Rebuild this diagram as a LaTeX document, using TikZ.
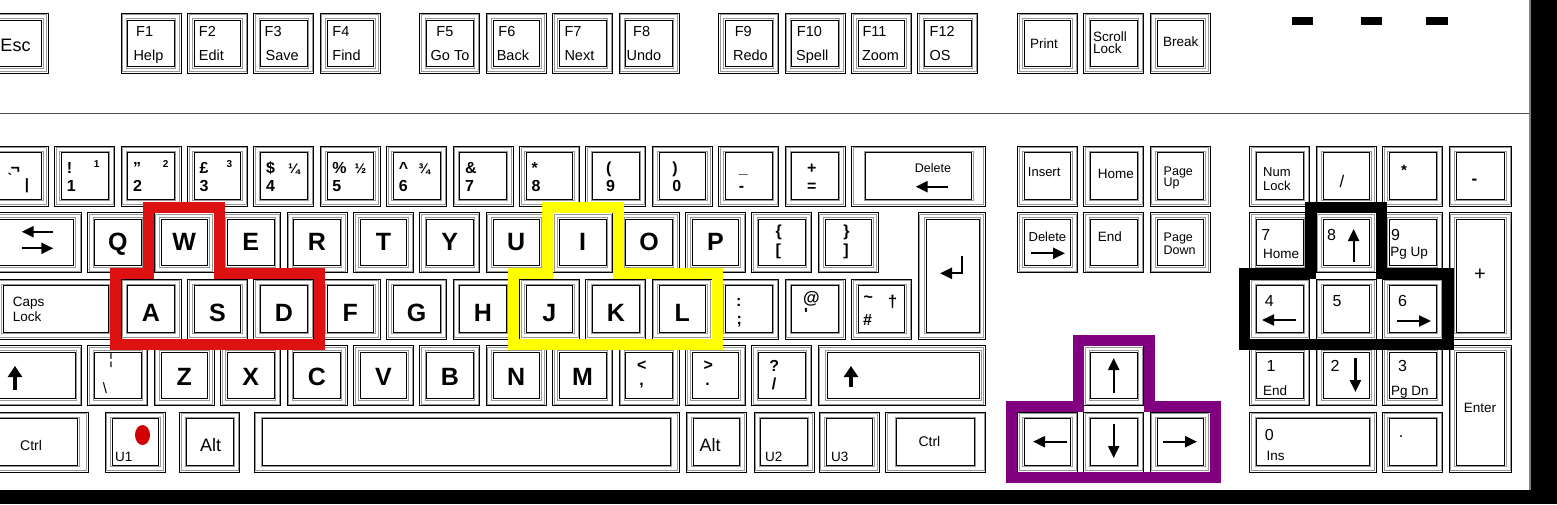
\documentclass[tikz,border=0pt]{standalone}
\usepackage{fontspec}
\setmainfont{Liberation Sans}
\usetikzlibrary{arrows.meta}
\newcommand\fs[1]{\fontsize{#1}{#1}\selectfont}
\newcommand\kbox[6]{%
  \pgfmathsetmacro\kxA{#1+1.5}\pgfmathsetmacro\kyA{#2+1.5}%
  \pgfmathsetmacro\kxB{#3-1.5}\pgfmathsetmacro\kyB{#4-1.5}%
  \fill[white] (#1,#2) rectangle (#3,#4);%
  \draw[kgray] (\kxA,\kyA) rectangle (\kxB,\kyB);%
  \draw[kline] (#1,#2) rectangle (#3,#4);%
  \pgfmathsetmacro\kxA{#1+#5}\pgfmathsetmacro\kyA{#2+6.7}%
  \pgfmathsetmacro\kxB{#3-#6}\pgfmathsetmacro\kyB{#4-6.7}%
  \draw[kgray] (\kxA-1.5,\kyA-1.5) rectangle (\kxB+1.5,\kyB+1.5);%
  \draw[kline] (\kxA,\kyA) rectangle (\kxB,\kyB);%
}
\newcommand\ku[2]{%
  \pgfmathsetmacro\kx{-11.8+66.4*#1}%
  \pgfmathsetmacro\kxe{\kx+60}\pgfmathsetmacro\kye{#2+60}%
  \kbox{\kx}{#2}{\kxe}{\kye}{6.7}{6.7}}
\newcommand\lt[3]{\pgfmathsetmacro\kx{-11.8+66.4*#1+30}\node[big] (k#3) at (\kx,#2) {#3};}
\definecolor{kred}{RGB}{221,17,17}
\definecolor{kyel}{RGB}{255,255,0}
\definecolor{kpur}{RGB}{128,0,128}
\definecolor{dotred}{RGB}{210,0,0}
\begin{document}
\begin{tikzpicture}[x=1pt,y=-1pt,
  kline/.style={draw=black,line width=0.75pt},
  kgray/.style={draw=black!40,line width=0.75pt},
  lb/.style={inner sep=0pt,anchor=base west},
  cb/.style={inner sep=0pt,anchor=center},
  big/.style={inner sep=0pt,anchor=base,font=\fs{25}\bfseries},
  nl/.style={lb,font=\fs{16}\bfseries},
  fl/.style={lb,font=\fs{14.5}},
  sl/.style={lb,font=\fs{13.5}},
  arr/.style={line width=2.2pt,-{Triangle[length=12pt,width=11pt]}},
  sarr/.style={line width=3.5pt,-{Triangle[length=11pt,width=14pt]}},
  hl/.style={line width=11pt,line join=miter,miter limit=10},
]
\fill[white] (0,0) rectangle (1557,504);
\clip (0,0) rectangle (1557,504);
% ---------- function row
\ku{0}{13.3}
\node[lb,font=\fs{18}] (esc) at (0.3,51.7) {Esc};
\foreach \n/\a/\b/\da/\db [count=\i] in {2/F1/Help/15/12.3, 3/F2/Edit/11.3/11.3, 4/F3/Save/10.7/11.7, 5/F4/Find/12/12, 6.5/F5/Go To/16.4/10.7, 7.5/F6/Back/12/10.4, 8.5/F7/Next/11.7/11.7, 9.5/F8/Undo/14/7.4, 11/F9/Redo/16/14.3, 12/F10/Spell/11.7/11, 13/F11/Zoom/11/10.4, 14/F12/OS/11.7/11.7}{
  \ku{\n}{13.3}
  \pgfmathsetmacro\kx{-11.8+66.4*\n}
  \node[fl] (f\i-a) at (\kx+\da,36) {\a};
  \node[fl] (f\i-b) at (\kx+\db,60.7) {\b};
}
\ku{15.5}{13.3} \node[sl] (prt) at (1030,48.3) {Print};
\ku{16.5}{13.3} \node[sl] (scr1) at (1093,41.5) {Scroll}; \node[sl] (scr2) at (1093,53.5) {Lock};
\ku{17.5}{13.3} \node[sl] (brk) at (1162.8,46.7) {Break};
\fill (1292,17) rectangle (1313,24.5);
\fill (1361,17) rectangle (1382,24.5);
\fill (1426,17) rectangle (1448,24.5);
\draw[black!70,line width=1pt] (0,113) -- (1530,113);
% ---------- number row
\ku{0}{146}
\node[nl] (n0-a) at (10.5,173.3) {¬};
\node[cb,font=\fs{14}\bfseries] (n0-b) at (10,178) {\textasciigrave};
\node[cb,font=\fs{15}\bfseries] (n0-c) at (27,185.5) {|};
\foreach \n/\t/\d/\dx in {1/!/1/12, 2/"/2/12, 3/£/3/12, 4/\$/4/12, 5/\%/5/12, 6/\^{}/6/12, 7/\&/7/12, 8/*/8/12, 9/(/9/20, 10/)/0/20, 11/\_/-/20, 12/+/=/22}{
  \ku{\n}{146}
  \pgfmathsetmacro\kx{-11.8+66.4*\n+\dx}
  \node[nl] (n\n-t) at (\kx,173.3) {\t};
  \node[nl] (n\n-d) at (\kx,191.7) {\d};
}
\node[lb,font=\fs{10}\bfseries] (s1) at (93.6,167.3) {1};
\node[lb,font=\fs{10}\bfseries] (s2) at (162.7,167.3) {2};
\node[lb,font=\fs{10}\bfseries] (s3) at (226.4,167.3) {3};
\node[lb,font=\fs{14}\bfseries] (s4) at (287.8,173.3) {¼};
\node[lb,font=\fs{14}\bfseries] (s5) at (354.5,173.3) {½};
\node[lb,font=\fs{14}\bfseries] (s6) at (418.2,173.3) {¾};
\kbox{851.4}{146}{985}{206}{14.4}{13.3}
\node[cb,font=\fs{12.5}] (bsp) at (933,168) {Delete};
\draw[arr] (948.3,186.7) -- (915.7,186.7);
\ku{15.5}{146} \node[lb,font=\fs{13}] (ins) at (1027.7,176.7) {Insert};
\ku{16.5}{146} \node[sl] (hom) at (1097.7,178.3) {Home};
\ku{17.5}{146} \node[lb,font=\fs{12.5}] (pu1) at (1163.5,175) {Page}; \node[lb,font=\fs{12.5}] (pu2) at (1163.5,186) {Up};
\ku{19}{146} \node[lb,font=\fs{13}] (nl1) at (1263,176.5) {Num}; \node[lb,font=\fs{13}] (nl2) at (1263,190) {Lock};
\ku{20}{146} \node[cb,font=\fs{17}] (pdiv) at (1342,181) {/};
\ku{21}{146} \node[cb,font=\fs{15}\bfseries] (pmul) at (1404,170) {*};
\kbox{1449}{146}{1511.5}{206}{7}{7} \node[cb,font=\fs{17}\bfseries] (pmin) at (1474.5,181.7) {-};
% ---------- QWERTY row
\kbox{-11.8}{212.5}{81.4}{272.5}{6.7}{8}
\draw[arr] (53.3,231.7) -- (21.7,231.7);
\draw[arr] (21.7,248.3) -- (53.3,248.3);
\foreach \n/\c in {1.5/Q,2.5/W,3.5/E,4.5/R,5.5/T,6.5/Y,7.5/U,8.5/I,9.5/O,10.5/P}{\ku{\n}{212.5}\lt{\n}{250}{\c}}
\ku{11.5}{212.5} \node[nl] (lbr1) at (775.5,236) {\{}; \node[nl] (lbr2) at (775.5,255.5) {[};
\ku{12.5}{212.5} \node[nl] (rbr1) at (843.2,236) {\}}; \node[nl] (rbr2) at (843.2,255.5) {]};
\kbox{918.3}{212.5}{985}{339}{7.7}{6}
\draw[arr,line join=miter] (962,256) -- (962,273.3) -- (940,273.3);
\ku{15.5}{212.5} \node[lb,font=\fs{13}] (del) at (1028.4,241.7) {Delete};
\draw[arr] (1031,253.3) -- (1065,253.3);
\ku{16.5}{212.5} \node[sl] (end) at (1097.7,241.7) {End};
\ku{17.5}{212.5} \node[lb,font=\fs{12.5}] (pd1) at (1163.5,241.7) {Page}; \node[lb,font=\fs{12.5}] (pd2) at (1163.5,254) {Down};
\ku{19}{212.5} \node[lb,font=\fs{16}] (p7) at (1261.2,240) {7}; \node[sl] (p7b) at (1263,258.3) {Home};
\ku{20}{212.5} \node[lb,font=\fs{16}] (p8) at (1327,240) {8}; \draw[arr] (1353.6,262) -- (1353.6,229);
\ku{21}{212.5} \node[lb,font=\fs{16}] (p9) at (1390.9,240) {9}; \node[sl] (p9b) at (1390.2,256) {Pg Up};
\kbox{1449}{212.5}{1511.5}{339}{7}{7} \node[cb,font=\fs{20}] (pplus) at (1480,275) {+};
% ---------- ASDF row
\kbox{-11.8}{279}{114.6}{339}{15}{6.7}
\node[sl] (cap1) at (12.7,306.7) {Caps}; \node[sl] (cap2) at (12.7,321.2) {Lock};
\foreach \n/\c in {2/A,3/S,4/D,5/F,6/G,7/H,8/J,9/K,10/L}{\ku{\n}{279}\lt{\n}{321.7}{\c}}
\ku{11} {279} \node[nl] (sc1) at (736,306) {:}; \node[nl] (sc2) at (736.5,324.5) {;};
\ku{12} {279} \node[lb,font=\fs{17}\bfseries] (at1) at (803,303) {@}; \node[nl] (at2) at (804,319.5) {\textquotesingle};
\ku{13} {279} \node[cb,font=\fs{16}\bfseries] (hs1) at (868.3,299.2) {\textasciitilde}; \node[nl] (hs2) at (863,325) {\#};
\node[cb,font=\fs{17}\bfseries] (hs3) at (892.5,301.7) {†};
\ku{19}{279} \node[lb,font=\fs{16}] (p4) at (1264.7,306.7) {4}; \draw[arr] (1296,320) -- (1262,320);
\ku{20}{279} \node[lb,font=\fs{16}] (p5) at (1332.3,306.7) {5};
\ku{21}{279} \node[lb,font=\fs{16}] (p6) at (1398,306.7) {6}; \draw[arr] (1397,321) -- (1431,321);
% ---------- ZXCV row
\kbox{-11.8}{345.5}{81.4}{405.5}{6.7}{6.4}
\draw[sarr] (15,390) -- (15,366);
\ku{1.5}{345.5} \node[cb,font=\fs{15}] (bb1) at (111,361) {¦}; \node[cb,font=\fs{15}] (bb2) at (105,388) {\textbackslash};
\foreach \n/\c in {2.5/Z,3.5/X,4.5/C,5.5/V,6.5/B,7.5/N,8.5/M}{\ku{\n}{345.5}\lt{\n}{385}{\c}}
\ku{9.5}{345.5} \node[cb,font=\fs{16}\bfseries] (lt1) at (641.7,366) {<}; \node[cb,font=\fs{16}\bfseries] (lt2) at (641.7,385.5) {,};
\ku{10.5}{345.5} \node[cb,font=\fs{16}\bfseries] (gt1) at (708.3,366) {>}; \node[cb,font=\fs{16}\bfseries] (gt2) at (707.5,384.5) {.};
\ku{11.5}{345.5} \node[cb,font=\fs{16}\bfseries] (qm1) at (774.2,366) {?}; \node[cb,font=\fs{16}\bfseries] (qm2) at (774.2,384) {/};
\kbox{818.2}{345.5}{985}{405.5}{9}{5.5}
\draw[sarr] (851,387) -- (851,366);
\ku{16.5}{345.5} \draw[arr] (1113.7,393) -- (1113.7,358);
\ku{19}{345.5} \node[lb,font=\fs{16}] (p1) at (1266.5,371.7) {1}; \node[sl] (p1b) at (1263,395) {End};
\ku{20}{345.5} \node[lb,font=\fs{16}] (p2) at (1330.5,371.7) {2}; \draw[arr] (1355.4,358) -- (1355.4,392);
\ku{21}{345.5} \node[lb,font=\fs{16}] (p3) at (1398,371.7) {3}; \node[sl] (p3b) at (1390.9,395) {Pg Dn};
\kbox{1449}{345.5}{1511.5}{472}{7}{7} \node[cb,font=\fs{13.5}] (pent) at (1480,407.5) {Enter};
% ---------- bottom row
\kbox{-11.7}{412}{88.3}{472}{11}{10.6} \node[lb,font=\fs{14}] (lctl) at (20,450) {Ctrl};
\kbox{105.3}{412}{165.3}{472}{6.7}{6.7}
\fill[dotred] (142.5,435) ellipse [x radius=7.5,y radius=10];
\node[sl] (u1) at (115,461.7) {U1};
\kbox{179.7}{412}{239.7}{472}{6.7}{6.7} \node[lb,font=\fs{18}] (alt) at (200,451.7) {Alt};
\kbox{254.3}{412}{679}{472}{8.4}{9}
\kbox{686}{412}{746}{472}{7}{6.7} \node[lb,font=\fs{18}] (altgr) at (699.3,451.7) {Alt};
\kbox{754.3}{412}{814.3}{472}{6.4}{7} \node[sl] (u2) at (765,461.7) {U2};
\kbox{819.3}{412}{879.3}{472}{6.7}{6.6} \node[sl] (u3) at (831,461.7) {U3};
\kbox{885.7}{412}{985.7}{472}{11}{11.4} \node[lb,font=\fs{14}] (rctl) at (918.3,446.7) {Ctrl};
\ku{15.5}{412} \draw[arr] (1066.5,441.7) -- (1033,441.7);
\ku{16.5}{412} \draw[arr] (1113.7,424) -- (1113.7,458);
\ku{17.5}{412} \draw[arr] (1163,441.7) -- (1197,441.7);
\kbox{1249.8}{412}{1376.2}{472}{7}{7}
\node[lb,font=\fs{16}] (p0) at (1264.7,440) {0}; \node[sl] (p0b) at (1266.5,460) {Ins};
\ku{21}{412} \node[cb,font=\fs{16}] (pdot) at (1401,437) {.};
% ---------- highlight frames
\draw[hl,kred] (148.7,207) -- (219.7,207) -- (219.7,273.5) -- (319.3,273.5) -- (319.3,344.5) -- (115.5,344.5) -- (115.5,273.5) -- (148.7,273.5) -- cycle;
\draw[hl,kyel] (547.1,207) -- (618.1,207) -- (618.1,273.5) -- (717.7,273.5) -- (717.7,344.5) -- (513.9,344.5) -- (513.9,273.5) -- (547.1,273.5) -- cycle;
\draw[hl,black] (1310.7,207) -- (1381.7,207) -- (1381.7,273.5) -- (1448.1,273.5) -- (1448.1,344.5) -- (1244.3,344.5) -- (1244.3,273.5) -- (1310.7,273.5) -- cycle;
\draw[hl,kpur] (1078.3,340) -- (1149.3,340) -- (1149.3,406.5) -- (1215.7,406.5) -- (1215.7,477.5) -- (1011.9,477.5) -- (1011.9,406.5) -- (1078.3,406.5) -- cycle;
% ---------- case edges
\draw[black!50,line width=1.2pt] (1530,0) -- (1530,490);
\fill[black] (1531,0) rectangle (1557,504);
\fill[black] (0,490) rectangle (1557,504);
\end{tikzpicture}
\end{document}
